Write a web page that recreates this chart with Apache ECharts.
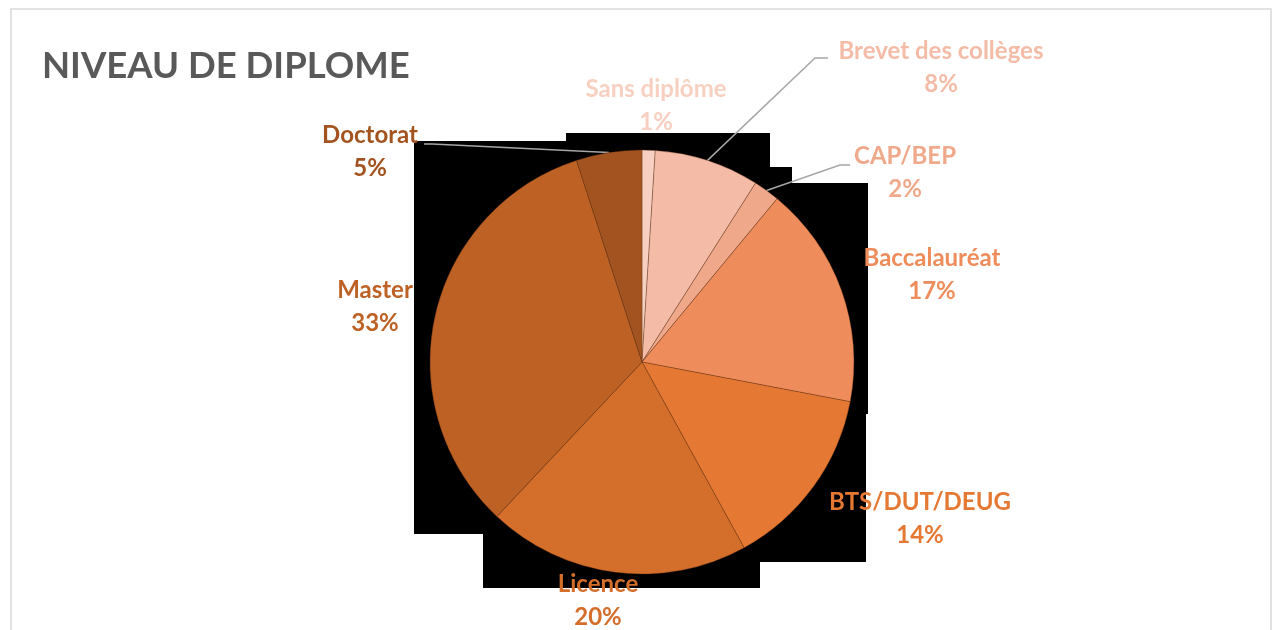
<!DOCTYPE html>
<html>
<head>
<meta charset="utf-8">
<script src="https://cdn.jsdelivr.net/npm/echarts@6/dist/echarts.min.js"></script>
<style>
  html, body { margin: 0; padding: 0; background: #ffffff; }
  #chart { width: 1274px; height: 630px; }
</style>
</head>
<body>
<div id="chart"></div>
<script>
// data
const categories = ['Sans diplôme', 'Brevet des collèges', 'CAP/BEP', 'Baccalauréat', 'BTS/DUT/DEUG', 'Licence', 'Master', 'Doctorat'];
const shares = [1, 8, 2, 17, 14, 20, 33, 5];

// styling
const colors = ['#f7d0c2', '#f4bca7', '#f0a88a', '#ee8d5b', '#e57933', '#d46e2b', '#be6125', '#a2531f'];
const labelPos = [[656, 106], [941, 68], [905, 173], [932, 275], [920, 519], [598, 601], [375, 307], [370, 152]];
// leader line end points for the labels that have one
const leaders = { 1: [[815, 58], [828, 58]], 2: [[840, 165], [850, 165]], 7: [[432, 144], [424, 144]] };

const chart = echarts.init(document.getElementById('chart'));

chart.setOption({
    backgroundColor: '#ffffff',
    animation: false,
    title: {
        text: 'NIVEAU DE DIPLOME',
        left: 37,
        top: 43,
        textStyle: {
            fontFamily: 'Lato',
            fontWeight: 'bold',
            fontSize: 36.5,
            color: '#595959'
        }
    },
    graphic: [
        {
            type: 'rect',
            z: 0,
            shape: { x: 11, y: 9, width: 1260, height: 660 },
            style: { fill: 'none', stroke: '#d9d9d9', lineWidth: 1.5 }
        },
        {
            // black shadow blocks behind the pie, as in the exported picture
            type: 'polygon',
            z: 0,
            shape: {
                points: [[566, 133], [770, 133], [770, 167], [792, 167], [792, 183], [868, 183], [868, 414],
                    [866, 414], [866, 562], [760, 562], [760, 588], [483, 588], [483, 534], [414, 534],
                    [414, 141], [566, 141]]
            },
            style: { fill: '#000000' }
        }
    ],
    series: [
        {
            type: 'pie',
            z: 2,
            center: [642, 362],
            radius: 212,
            startAngle: 90,
            clockwise: true,
            avoidLabelOverlap: false,
            itemStyle: {
                borderColor: 'rgba(100, 50, 20, 0.45)',
                borderWidth: 0.8
            },
            label: {
                show: true,
                position: 'outside',
                formatter: '{b}\n{d}%',
                color: 'inherit',
                fontFamily: 'Lato',
                fontWeight: 'bold',
                fontSize: 24,
                lineHeight: 33,
                align: 'center'
            },
            labelLine: {
                show: false,
                lineStyle: { color: '#a6a6a6', width: 1.5 }
            },
            labelLayout: function (params) {
                const p = labelPos[params.dataIndex];
                const res = { x: p[0], y: p[1], align: 'center', verticalAlign: 'middle' };
                const lead = leaders[params.dataIndex];
                if (lead && params.labelLinePoints) {
                    res.labelLinePoints = [params.labelLinePoints[0], lead[0], lead[1]];
                }
                return res;
            },
            data: categories.map(function (name, i) {
                return {
                    name: name,
                    value: shares[i],
                    itemStyle: { color: colors[i] },
                    labelLine: { show: leaders[i] !== undefined }
                };
            })
        }
    ]
});
</script>
</body>
</html>
